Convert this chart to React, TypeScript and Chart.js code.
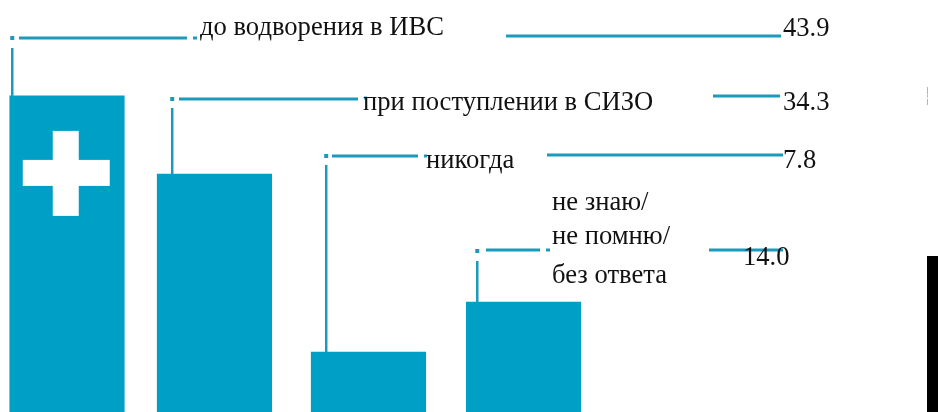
import React, { useEffect, useRef } from "react";
import { Chart, registerables } from "chart.js";

Chart.register(...registerables);

// Data
const categories = ["до водворения в ИВС", "при поступлении в СИЗО", "никогда", "не знаю/ не помню/ без ответа"];
const barHeights = [43.9, 33.05, 8.33, 15.28];
const barSlots = [0, 0.969, 1.981, 3];
const valueLabels = ["43.9", "34.3", "7.8", "14.0"];

const BAR = "#009fc6";
const LINE = "#1c9abb";
const FONT = '"Liberation Serif", "Times New Roman", serif';

type Seg = [number, number];
// per-bar layout of the call-outs, in canvas pixels
const callouts = [
  { barInset: 2.5, elbowY: 38, vTop: 48, h: [[19, 187], [193, 197], [506, 781]] as Seg[], hY: [38, 38, 36], dot: true,
    text: [{ s: categories[0], x: 200, y: 35 }], value: { s: valueLabels[0], x: 783, y: 36 } },
  { barInset: 15, elbowY: 99, vTop: 108, h: [[179, 358], [364, 367], [713, 780]] as Seg[], hY: [99, 98, 96], dot: true,
    text: [{ s: categories[1], x: 363, y: 110 }], value: { s: valueLabels[1], x: 783, y: 110 } },
  { barInset: 15, elbowY: 156, vTop: 165, h: [[332, 418], [424, 427], [547, 783]] as Seg[], hY: [156, 156, 155], dot: true,
    text: [{ s: categories[2], x: 426, y: 168 }], value: { s: valueLabels[2], x: 783, y: 168 } },
  { barInset: 11, elbowY: 251, vTop: 261, h: [[486, 540], [546, 550], [709, 783]] as Seg[], hY: [250, 250, 250], dot: true,
    text: [{ s: "не знаю/", x: 552, y: 210 }, { s: "не помню/", x: 552, y: 244 }, { s: "без ответа", x: 552, y: 283 }],
    value: { s: valueLabels[3], x: 743, y: 265 } },
];

const overlay = {
  id: "overlay",
  afterDatasetsDraw(chart: any) {
    const { ctx } = chart;
    const bars = chart.getDatasetMeta(0).data;
    ctx.save();

    // white cross inside the first bar
    const b0 = bars[0];
    const left0 = b0.x - b0.width / 2;
    ctx.fillStyle = "#ffffff";
    ctx.fillRect(left0 + 43, b0.y + 35, 26, 85);
    ctx.fillRect(left0 + 13, b0.y + 64, 87, 26);

    // call-out lines
    callouts.forEach((c, i) => {
      const b = bars[i];
      const vx = b.x - b.width / 2 + c.barInset;
      ctx.strokeStyle = LINE;
      ctx.lineWidth = 2.5;
      ctx.beginPath();
      ctx.moveTo(vx, b.y);
      ctx.lineTo(vx, c.vTop);
      ctx.stroke();
      ctx.fillStyle = LINE;
      ctx.fillRect(vx - 2, c.elbowY - 2, 4, 4);
      ctx.lineWidth = 3;
      c.h.forEach((seg, k) => {
        ctx.beginPath();
        ctx.moveTo(seg[0], c.hY[k]);
        ctx.lineTo(seg[1], c.hY[k]);
        ctx.stroke();
      });
    });

    // labels and values
    ctx.fillStyle = "#111111";
    ctx.textBaseline = "alphabetic";
    ctx.textAlign = "left";
    callouts.forEach((c) => {
      ctx.font = `26.6px ${FONT}`;
      c.text.forEach((t) => ctx.fillText(t.s, t.x, t.y));
      ctx.fillText(c.value.s, c.value.x, c.value.y);
    });

    // stray marks at the right edge of the reference
    ctx.fillStyle = "#000000";
    ctx.fillRect(927, 256, 11, 156);
    ctx.fillStyle = "#b5b5b5";
    ctx.fillRect(927, 87, 1, 7);
    ctx.fillRect(927, 94.5, 1, 3);
    ctx.fillRect(927, 99, 1, 6);
    ctx.restore();
  },
};

export default function App() {
  const ref = useRef<HTMLCanvasElement>(null);
  useEffect(() => {
    const chart = new Chart(ref.current!, {
      type: "bar",
      data: {
        labels: categories,
        datasets: [
          {
            data: barHeights.map((y, i) => ({ x: barSlots[i], y })),
            backgroundColor: BAR,
            borderWidth: 0,
            barThickness: 114.5,
          },
        ],
      },
      options: {
        animation: false,
        responsive: false,
        devicePixelRatio: 1,
        layout: { padding: 0 },
        plugins: { legend: { display: false }, tooltip: { enabled: false }, title: { display: false } },
        scales: {
          x: { type: "linear", display: false, offset: false, min: -0.4403, max: 5.7237 },
          y: { display: false, min: 0, max: 57.22 },
        },
      },
      plugins: [overlay],
    } as any);
    return () => chart.destroy();
  }, []);
  return (
    <canvas
      ref={ref}
      width={938}
      height={412}
      style={{ position: "fixed", left: 0, top: 0, display: "block", background: "#fff" }}
    />
  );
}
